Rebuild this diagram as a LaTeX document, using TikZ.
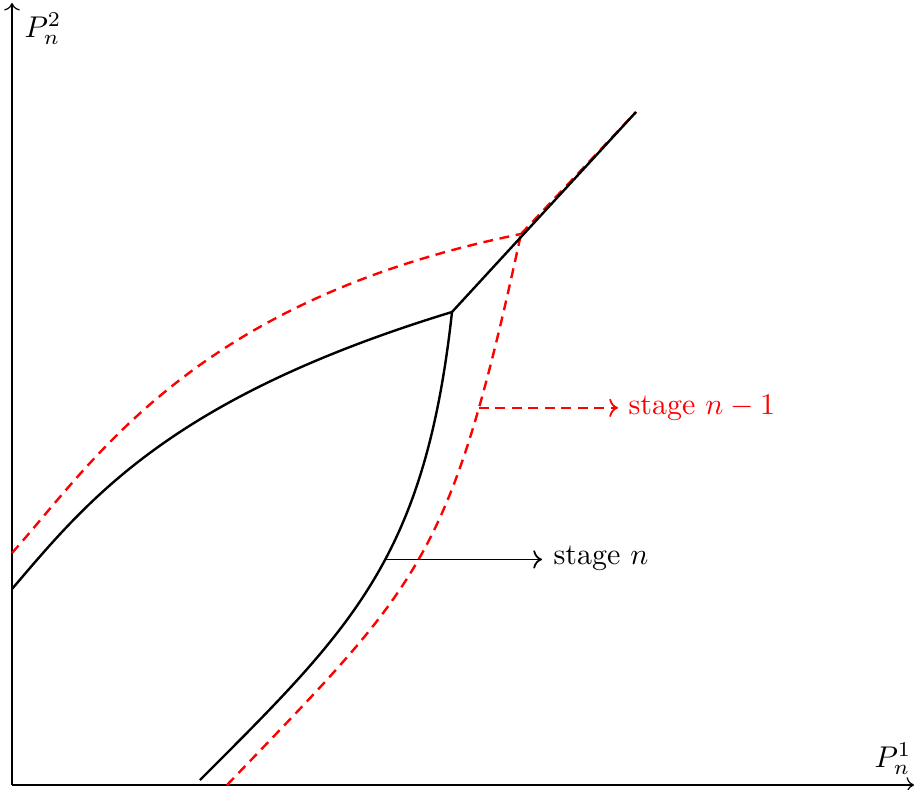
\documentclass[tikz,border=0pt]{standalone}
\usetikzlibrary{arrows.meta}
\begin{document}
\begin{tikzpicture}[x=0.3333pt,y=-0.3333pt,
  axis/.style={thin,->},
  cur/.style={black,thick,line join=round},
  redcur/.style={red,thick,dashed,dash pattern=on 3.3pt off 2.2pt},
  lbl/.style={anchor=west,inner sep=0pt}]
\useasboundingbox (0,0) rectangle (915,790);
% axes
\coordinate (O) at (12,785);
\coordinate (Xend) at (914,785);
\coordinate (Yend) at (12,3);
\draw[axis] (O) -- (Xend);
\draw[axis] (O) -- (Yend);
\node (xl) at (893,759) {$P_n^1$};
\node (yl) at (43,29) {$P_n^2$};
% key points
\coordinate (J) at (452,312);
\coordinate (K) at (521,234);
\coordinate (T) at (636,112);
\coordinate (b1) at (542,558);
\coordinate (b2) at (618,408);
% red dashed (stage n-1)
\draw[redcur] (12,553) .. controls (95,460) and (195,300) .. (K);
\draw[redcur] (227,785) .. controls (421,583) and (450,562) .. coordinate[pos=0.785] (a2) (K);
\draw[redcur] (K) -- (T);
% black curves (stage n)
\draw[cur] (12,589) .. controls (88,500) and (170,398) .. (J);
\draw[cur] (200,780) .. controls (352,628) and (425,558) .. coordinate[pos=0.553] (a1) (J);
\draw[cur] (J) -- (T);
% labels
\node[lbl] (s1) at (553,558) {stage $n$};
\draw[semithick,->] (a1) -- (a1 -| b1);
\node[lbl,text=red] (s2) at (628,408) {stage $n-1$};
\draw[semithick,red,dashed,dash pattern=on 3.3pt off 2.2pt,->] (a2) -- (a2 -| b2);
\end{tikzpicture}
\end{document}
